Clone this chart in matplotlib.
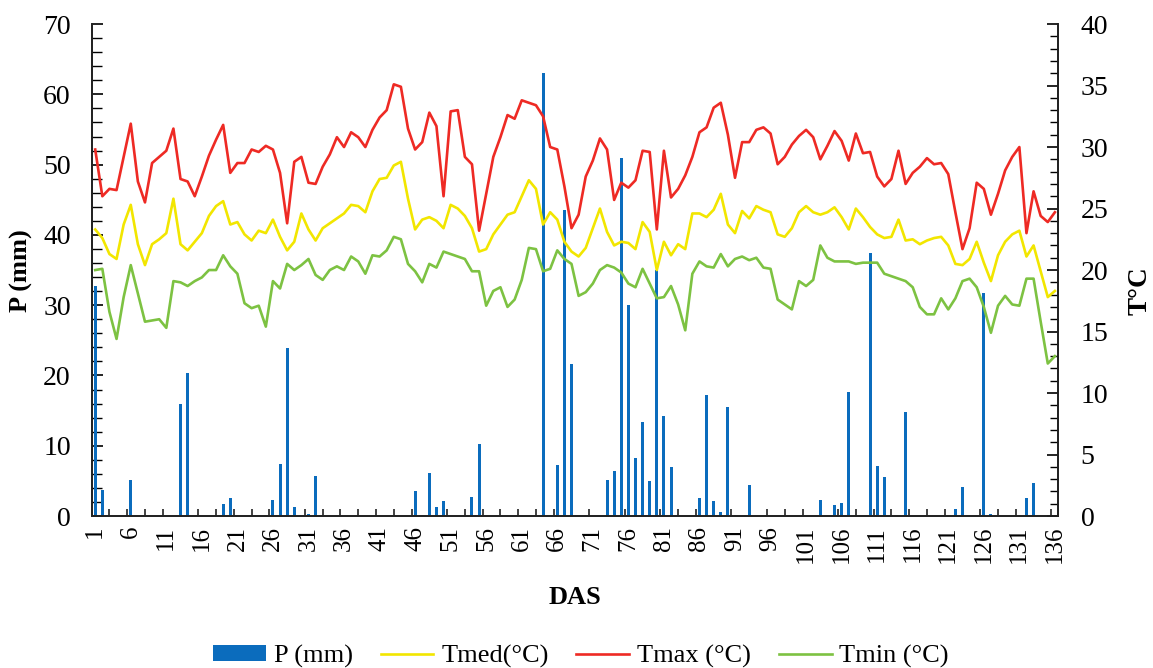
import matplotlib
matplotlib.use("Agg")
import matplotlib.pyplot as plt
from matplotlib.lines import Line2D
from matplotlib.patches import Patch
from matplotlib.ticker import FixedLocator, MultipleLocator
import numpy as np

plt.rcParams['font.family'] = ['Liberation Serif', 'DejaVu Serif']

# dias apos a semeadura
days = np.arange(1, 137)

# precipitacao (so os dias com chuva)
rain_days = [1, 2, 6, 13, 14, 19, 20, 26, 27, 28, 29, 31, 32, 46, 47, 48, 49, 50, 54, 55,
             64, 66, 67, 68, 73, 74, 75, 76, 77, 78, 79, 80, 81, 82, 86, 87, 88, 89, 90, 91,
             93, 103, 105, 106, 107, 110, 111, 112, 115, 122, 123, 126, 127, 132, 133]
rain_mm = [32.8, 3.7, 5.1, 16.0, 20.3, 1.7, 2.6, 2.3, 7.4, 23.9, 1.3, 0.3, 5.7, 3.5, 0.2, 6.1, 1.3, 2.1, 2.7, 10.2,
           63.0, 7.2, 43.5, 21.6, 5.1, 6.4, 51.0, 30.0, 8.3, 13.4, 5.0, 35.0, 14.2, 7.0, 2.5, 17.2, 2.1, 0.6, 15.5, 0.1,
           4.4, 2.3, 1.5, 1.8, 17.6, 37.4, 7.1, 5.5, 14.8, 1.0, 4.2, 31.8, 0.3, 2.6, 4.7]

tmax = [29.8, 26.0, 26.6, 26.5, 29.2, 31.9, 27.2, 25.5, 28.7, 29.2,
        29.7, 31.5, 27.4, 27.2, 26.0, 27.6, 29.3, 30.6, 31.8, 27.9,
        28.7, 28.7, 29.8, 29.6, 30.1, 29.8, 27.9, 23.8, 28.8, 29.2,
        27.1, 27.0, 28.4, 29.4, 30.8, 30.0, 31.2, 30.8, 30.0, 31.4,
        32.4, 33.0, 35.1, 34.9, 31.5, 29.8, 30.4, 32.8, 31.7, 26.0,
        32.9, 33.0, 29.2, 28.6, 23.2, 26.2, 29.2, 30.8, 32.6, 32.3,
        33.8, 33.6, 33.4, 32.5, 30.0, 29.8, 26.8, 23.4, 24.5, 27.6,
        28.9, 30.7, 29.8, 25.7, 27.1, 26.7, 27.3, 29.7, 29.6, 23.3,
        29.7, 25.9, 26.6, 27.7, 29.2, 31.2, 31.6, 33.2, 33.6, 31.0,
        27.5, 30.4, 30.4, 31.4, 31.6, 31.1, 28.6, 29.2, 30.2, 30.9,
        31.4, 30.8, 29.0, 30.1, 31.3, 30.5, 28.9, 31.1, 29.5, 29.6,
        27.6, 26.8, 27.4, 29.7, 27.0, 27.9, 28.4, 29.1, 28.6, 28.7,
        27.8, 24.7, 21.7, 23.4, 27.1, 26.6, 24.5, 26.2, 28.1, 29.2,
        30.0, 23.0, 26.4, 24.4, 23.9, 24.7]

tmed = [23.3, 22.6, 21.3, 20.9, 23.7, 25.3, 22.1, 20.4, 22.1, 22.5,
        23.0, 25.8, 22.1, 21.6, 22.3, 23.0, 24.4, 25.2, 25.6, 23.7,
        23.9, 22.9, 22.4, 23.2, 23.0, 24.1, 22.7, 21.6, 22.3, 24.6,
        23.3, 22.4, 23.4, 23.8, 24.2, 24.6, 25.3, 25.2, 24.7, 26.4,
        27.4, 27.5, 28.5, 28.8, 25.8, 23.3, 24.1, 24.3, 24.0, 23.4,
        25.3, 25.0, 24.4, 23.4, 21.5, 21.7, 22.9, 23.7, 24.5, 24.7,
        26.0, 27.3, 26.6, 23.7, 24.7, 24.1, 22.3, 21.5, 21.1, 21.8,
        23.4, 25.0, 23.1, 22.0, 22.3, 22.2, 21.7, 23.9, 23.1, 20.0,
        22.3, 21.2, 22.1, 21.7, 24.6, 24.6, 24.3, 24.9, 26.2, 23.7,
        23.0, 24.8, 24.2, 25.2, 24.9, 24.7, 22.9, 22.7, 23.4, 24.7,
        25.2, 24.7, 24.5, 24.7, 25.1, 24.3, 23.3, 25.0, 24.3, 23.5,
        22.9, 22.6, 22.7, 24.1, 22.4, 22.5, 22.1, 22.4, 22.6, 22.7,
        22.0, 20.5, 20.4, 20.9, 22.3, 20.6, 19.1, 21.2, 22.3, 22.9,
        23.2, 21.1, 22.0, 19.9, 17.8, 18.3]

tmin = [20.0, 20.1, 16.6, 14.4, 17.8, 20.4, 18.1, 15.8, 15.9, 16.0,
        15.3, 19.1, 19.0, 18.7, 19.1, 19.4, 20.0, 20.0, 21.2, 20.3,
        19.7, 17.3, 16.9, 17.1, 15.4, 19.1, 18.5, 20.5, 20.0, 20.4,
        20.9, 19.6, 19.2, 20.0, 20.3, 20.0, 21.1, 20.7, 19.7, 21.2,
        21.1, 21.6, 22.7, 22.5, 20.5, 19.9, 19.0, 20.5, 20.2, 21.5,
        21.3, 21.1, 20.9, 19.9, 19.9, 17.1, 18.3, 18.6, 17.0, 17.6,
        19.2, 21.8, 21.7, 19.9, 20.1, 21.6, 20.9, 20.5, 17.9, 18.2,
        18.9, 20.0, 20.4, 20.2, 19.8, 18.9, 18.6, 20.1, 18.9, 17.7,
        17.8, 18.7, 17.2, 15.1, 19.7, 20.7, 20.3, 20.2, 21.3, 20.3,
        20.9, 21.1, 20.8, 21.0, 20.2, 20.1, 17.6, 17.2, 16.8, 19.1,
        18.7, 19.2, 22.0, 21.0, 20.7, 20.7, 20.7, 20.5, 20.6, 20.6,
        20.6, 19.7, 19.5, 19.3, 19.1, 18.6, 17.0, 16.4, 16.4, 17.7,
        16.8, 17.7, 19.1, 19.3, 18.6, 17.0, 14.9, 17.1, 17.9, 17.2,
        17.1, 19.3, 19.3, 15.8, 12.4, 13.0]

label_days = list(range(1, 137, 5))

c_bar = '#0B6CBD'
c_med = '#F2E600'
c_max = '#EE2A24'
c_min = '#7DC242'

fig = plt.figure(figsize=(11.53, 6.68), dpi=100)
ax = fig.add_axes([0.0795, 0.2275, 0.9180 - 0.0795, 0.964 - 0.2275])

# barras de chuva
ax.bar(rain_days, rain_mm, width=0.42, color=c_bar, zorder=2)
ax.set_xlim(0.5, 136.5)
ax.set_ylim(0, 70)

ax2 = ax.twinx()
ax2.plot(days, tmed, color=c_med, lw=1.9)
ax2.plot(days, tmax, color=c_max, lw=1.9)
ax2.plot(days, tmin, color=c_min, lw=1.9)
ax2.set_ylim(0, 40)

# eixos
for a in (ax, ax2):
    a.spines['top'].set_visible(False)
    for s in a.spines.values():
        s.set_color('#222222')
        s.set_linewidth(1.3)

ax.set_xticks(label_days)
ax.set_xticklabels([str(d) for d in label_days], rotation=90, fontsize=18)
ax.xaxis.set_minor_locator(FixedLocator(np.arange(0.5, 137, 2.5)))
ax.tick_params(axis='x', which='major', length=0, pad=7)
ax.tick_params(axis='x', which='minor', direction='in', length=5, width=1.2, color='#222222')

ax.yaxis.set_major_locator(MultipleLocator(10))
ax.yaxis.set_minor_locator(MultipleLocator(2))
ax.tick_params(axis='y', which='major', direction='in', length=8, width=1.2, labelsize=20, pad=15)
ax.tick_params(axis='y', which='minor', direction='in', length=7, width=1.0)

ax2.yaxis.set_major_locator(MultipleLocator(5))
ax2.yaxis.set_minor_locator(MultipleLocator(1))
ax2.tick_params(axis='y', which='major', direction='in', length=8, width=1.2, labelsize=20, pad=16)
ax2.tick_params(axis='y', which='minor', direction='in', length=6, width=1.0)

fig.text(0.019, 0.595, 'P (mm)', rotation=90, ha='center', va='center',
         fontsize=19, fontweight='bold')
fig.text(0.989, 0.565, 'T°C', rotation=90, ha='center', va='center',
         fontsize=19.5, fontweight='bold')
fig.text(0.499, 0.106, 'DAS', ha='center', va='center', fontsize=19, fontweight='bold')

handles = [Patch(facecolor=c_bar, edgecolor='none'),
           Line2D([], [], color=c_med, lw=1.9),
           Line2D([], [], color=c_max, lw=1.9),
           Line2D([], [], color=c_min, lw=1.9)]
labels = ['P (mm)', 'Tmed(°C)', 'Tmax (°C)', 'Tmin (°C)']
fig.legend(handles, labels, loc='center', bbox_to_anchor=(0.504, 0.017), ncol=4,
           frameon=False, fontsize=19, handlelength=2.0, handleheight=0.55,
           handletextpad=0.3, columnspacing=1.05)

fig.savefig('out.png', dpi=100)
